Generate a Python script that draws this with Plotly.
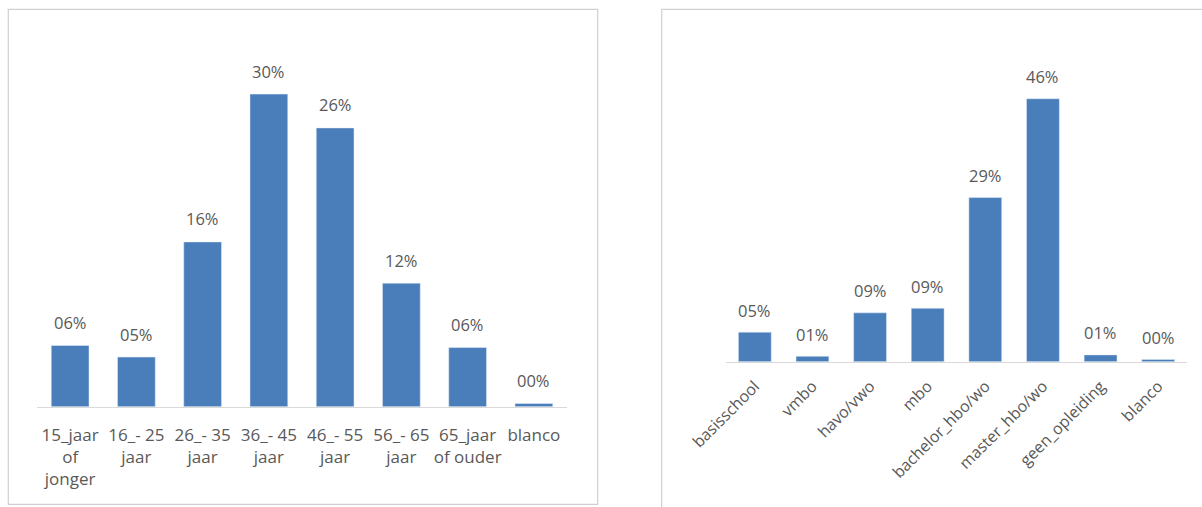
import plotly.graph_objects as go

# ---- data ----
age_categories = ["15_jaar<br>of<br>jonger", "16_- 25<br>jaar", "26_- 35<br>jaar", "36_- 45<br>jaar",
                  "46_- 55<br>jaar", "56_- 65<br>jaar", "65_jaar<br>of ouder", "blanco"]
age_values = [0.058, 0.047, 0.156, 0.296, 0.264, 0.117, 0.056, 0.003]

edu_categories = ["basisschool", "vmbo", "havo/vwo", "mbo", "bachelor_hbo/wo",
                  "master_hbo/wo", "geen_opleiding", "blanco"]
edu_values = [0.052, 0.0095, 0.086, 0.094, 0.289, 0.463, 0.012, 0.004]

W, H = 1202, 507
BLUE = "#4a7ebb"
TXT = "#595959"
AX = "#d9d9d9"
FONT = "Open Sans"


def px_x(x):
    return x / W


def px_y(y):
    return (H - y) / H


def lab(v):
    return f"{int(round(v * 100 + 1e-9)):02d}%"


fig = go.Figure()
fig.add_trace(go.Bar(x=age_categories, y=age_values, marker_color=BLUE,
                     xaxis="x", yaxis="y", hoverinfo="skip"))
fig.add_trace(go.Bar(x=edu_categories, y=edu_values, marker_color=BLUE,
                     xaxis="x2", yaxis="y2", hoverinfo="skip"))

annotations = []
for c, v in zip(age_categories, age_values):
    annotations.append(dict(x=c, y=v, xref="x", yref="y", text=lab(v), showarrow=False,
                            yanchor="middle", yshift=23, font=dict(family=FONT, size=16.5, color=TXT)))
for c, v in zip(edu_categories, edu_values):
    annotations.append(dict(x=c, y=v, xref="x2", yref="y2", text=lab(v), showarrow=False,
                            yanchor="middle", yshift=22, font=dict(family=FONT, size=16.5, color=TXT)))

# plot area geometry (pixels)
L_x0, L_x1, L_base, L_top = 37, 567, 406.7, 40
R_x0, R_x1, R_base, R_top = 726, 1187, 361.7, 40
L_scale = 1056.0   # px per unit
R_scale = 568.0

fig.update_layout(
    width=W, height=H, margin=dict(l=0, r=0, t=0, b=0, pad=0, autoexpand=False),
    paper_bgcolor="white", plot_bgcolor="white", showlegend=False,
    bargap=0.43,
    font=dict(family=FONT, size=16, color=TXT),
    xaxis=dict(domain=[px_x(L_x0), px_x(L_x1)], range=[-0.5, 7.5], showline=True, linecolor=AX,
               linewidth=1, ticks="", showgrid=False, zeroline=False, tickangle=0, automargin=False,
               ticklabelstandoff=13, tickfont=dict(family=FONT, size=17, color=TXT), anchor="y"),
    yaxis=dict(domain=[px_y(L_base), px_y(L_top)], range=[0, (L_base - L_top) / L_scale],
               visible=False, anchor="x", automargin=False),
    xaxis2=dict(domain=[px_x(R_x0), px_x(R_x1)], range=[-0.5, 7.5], showline=True, linecolor=AX,
                linewidth=1, ticks="", showgrid=False, zeroline=False, tickangle=-45, automargin=False,
                ticklabelstandoff=8, tickfont=dict(family=FONT, size=16, color=TXT), anchor="y2"),
    yaxis2=dict(domain=[px_y(R_base), px_y(R_top)], range=[0, (R_base - R_top) / R_scale],
                visible=False, anchor="x2", automargin=False),
    annotations=annotations,
    shapes=[
        dict(type="rect", xref="paper", yref="paper", x0=px_x(8.3), x1=px_x(597.7),
             y0=px_y(504.3), y1=px_y(9.3), line=dict(color="#d0d0d0", width=1.2)),
        dict(type="rect", xref="paper", yref="paper", x0=px_x(661.7), x1=px_x(1215),
             y0=px_y(520), y1=px_y(9.3), line=dict(color="#d0d0d0", width=1.2)),
    ],
)

fig.write_html("out.html")
